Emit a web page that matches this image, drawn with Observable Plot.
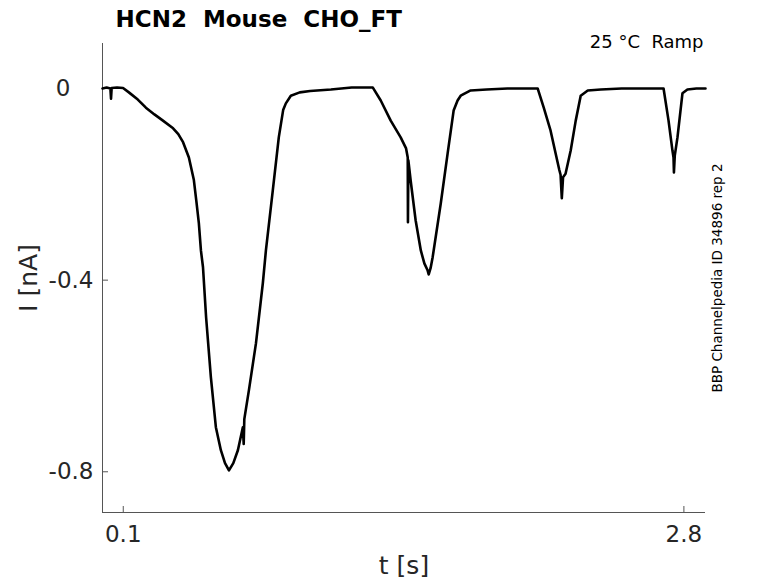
<!DOCTYPE html>
<html><head><meta charset="utf-8">
<script src="https://cdn.jsdelivr.net/npm/d3@7"></script>
<script src="https://cdn.jsdelivr.net/npm/@observablehq/plot@0.6"></script>
<style>
body{margin:0;background:#fff;}
svg text{white-space:pre;}
</style></head><body><div id="chart"></div>
<script>
const title = "HCN2  Mouse  CHO_FT";
const condition = "25 °C  Ramp";
const sideNote = "BBP Channelpedia ID 34896 rep 2";
const xLabel = "t [s]";
const yLabel = "I [nA]";
const xTicks = [0.1, 2.8];
const yTicks = [0, -0.4, -0.8];
const xDomain = [0, 2.904];
const yDomain = [-0.885, 0.094];

// recorded current trace (time in s, current in nA)
const time = [
  0.000, 0.020, 0.038, 0.041, 0.044, 0.070, 0.099, 0.127, 0.170, 0.209,
  0.250, 0.291, 0.340, 0.365, 0.388, 0.416, 0.440, 0.452, 0.464, 0.474,
  0.484, 0.499, 0.522, 0.546, 0.570, 0.590, 0.609, 0.630, 0.652, 0.676,
  0.680, 0.683, 0.705, 0.739, 0.772, 0.787, 0.820, 0.849, 0.870, 0.883,
  0.907, 0.950, 1.000, 1.100, 1.200, 1.302,
  1.340, 1.388, 1.436, 1.462, 1.470, 1.471, 1.473, 1.484, 1.508, 1.533,
  1.550, 1.566, 1.571, 1.580, 1.590, 1.629, 1.662, 1.691, 1.710, 1.725,
  1.773, 1.850, 1.950, 2.050, 2.096,
  2.125, 2.158, 2.182, 2.200, 2.206, 2.212, 2.218, 2.230, 2.255, 2.279,
  2.303, 2.337, 2.400, 2.500, 2.600, 2.702,
  2.726, 2.745, 2.750, 2.752, 2.756, 2.769, 2.793, 2.817, 2.860, 2.904
];
const current = [
  0.000, 0.002, 0.000, -0.021, 0.001, 0.002, 0.001, -0.008, -0.023, -0.040,
  -0.054, -0.067, -0.083, -0.095, -0.112, -0.144, -0.191, -0.235, -0.281, -0.338,
  -0.373, -0.478, -0.603, -0.707, -0.755, -0.782, -0.797, -0.782, -0.755, -0.707,
  -0.742, -0.690, -0.630, -0.532, -0.407, -0.338, -0.213, -0.102, -0.045, -0.031,
  -0.015, -0.008, -0.005, -0.002, 0.002, 0.002,
  -0.025, -0.067, -0.102, -0.125, -0.144, -0.279, -0.150, -0.192, -0.275, -0.338,
  -0.365, -0.380, -0.388, -0.375, -0.352, -0.240, -0.136, -0.046, -0.025, -0.015,
  -0.004, -0.002, 0.000, 0.000, 0.000,
  -0.040, -0.088, -0.135, -0.170, -0.180, -0.229, -0.185, -0.178, -0.129, -0.067,
  -0.015, -0.004, -0.002, 0.000, 0.000, 0.000,
  -0.067, -0.130, -0.144, -0.175, -0.140, -0.102, -0.010, -0.002, 0.000, 0.000
];

const data = time.map((t, k) => ({t, i: current[k]}));
const axisColor = "#555555";
const textColor = "#262626";

const chart = Plot.plot({
  width: 778, height: 583,
  marginLeft: 102, marginRight: 73, marginTop: 43, marginBottom: 71,
  style: {fontFamily: "'DejaVu Sans', sans-serif", color: textColor, background: "#fff", overflow: "visible"},
  x: {domain: xDomain},
  y: {domain: yDomain},
  marks: [
    Plot.ruleX([xDomain[0]], {stroke: axisColor, strokeWidth: 1}),
    Plot.ruleY([yDomain[0]], {stroke: axisColor, strokeWidth: 1}),
    Plot.axisX(xTicks, {tickSize: 0, tickPadding: 13, fontSize: 23, label: null, tickFormat: d => String(d)}),
    Plot.axisX(xTicks, {tickSize: 6, dy: -6, tickFormat: () => "", label: null, stroke: axisColor}),
    Plot.axisY(yTicks.filter(d => d !== 0), {tickSize: 0, tickPadding: 9, fontSize: 23, label: null, tickFormat: d => String(d)}),
    Plot.axisY(yTicks.filter(d => d === 0), {tickSize: 0, tickPadding: 32, fontSize: 23, label: null, tickFormat: d => String(d)}),
    Plot.axisY(yTicks, {tickSize: 6, dx: 6, tickFormat: () => "", label: null, stroke: axisColor}),
    Plot.line(data, {x: "t", y: "i", stroke: "#000", strokeWidth: 2.6, strokeLinejoin: "round", strokeLinecap: "round"}),
    Plot.text([title], {text: d => d, frameAnchor: "top-left", dx: 13, dy: -17, textAnchor: "start", lineAnchor: "bottom", fontSize: 23, fontWeight: "bold", fill: "#000"}),
    Plot.text([condition], {text: d => d, frameAnchor: "top-right", dx: -2, dy: 4, textAnchor: "end", lineAnchor: "bottom", fontSize: 18, fill: "#000"}),
    Plot.text([sideNote], {text: d => d, frameAnchor: "right", dx: 12, rotate: -90, textAnchor: "middle", lineAnchor: "middle", fontSize: 13.5, fill: "#000"}),
    Plot.text([yLabel], {text: d => d, frameAnchor: "left", dx: -74, rotate: -90, textAnchor: "middle", lineAnchor: "middle", fontSize: 25, fill: textColor}),
    Plot.text([xLabel], {text: d => d, frameAnchor: "bottom", dy: 61, textAnchor: "middle", lineAnchor: "bottom", fontSize: 25, fill: textColor})
  ]
});
document.getElementById("chart").appendChild(chart);
</script>
</body></html>
